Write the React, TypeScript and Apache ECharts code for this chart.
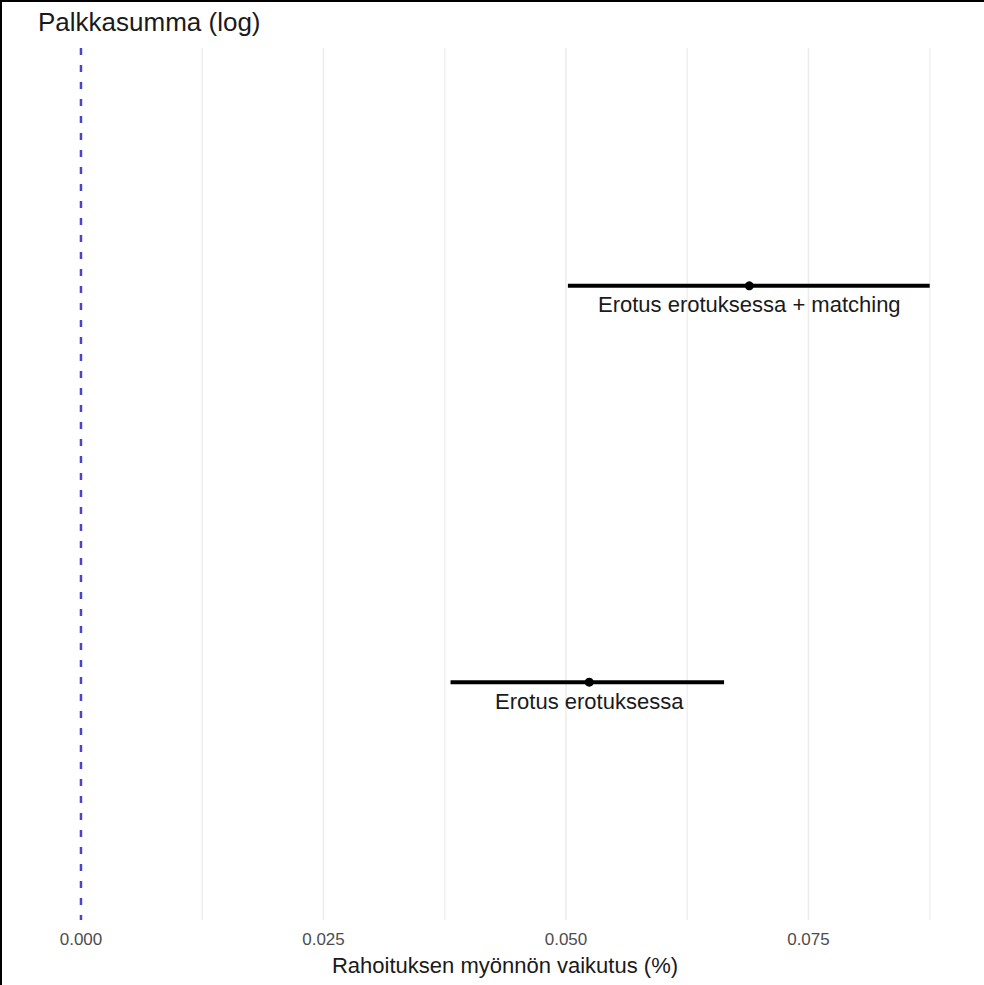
import React, { useEffect, useRef } from "react";
import * as echarts from "echarts";

const titleText = "Palkkasumma (log)";
const xAxisTitle = "Rahoituksen myönnön vaikutus (%)";
const catNames = ["Erotus erotuksessa", "Erotus erotuksessa + matching"];
const estimates = [0.0524, 0.0689];
const lower = [0.0381, 0.0502];
const upper = [0.0663, 0.0875];
const tickValues = [0, 0.025, 0.05, 0.075];
const majorGrid = [0.025, 0.05, 0.075];
const minorGrid = [0.0125, 0.0375, 0.0625, 0.0875];
const refLine = 0;

const FONT = "'Liberation Sans', Arial, Helvetica, sans-serif";

export default function App() {
  const ref = useRef<HTMLDivElement>(null);
  useEffect(() => {
    if (!ref.current) return;
    const chart = echarts.init(ref.current, null, { renderer: "svg" });
    const data = catNames.map((n, i) => [lower[i], estimates[i], upper[i], i + 1]);
    const gridData = [
      ...minorGrid.map((v) => [v, 0]),
      ...majorGrid.map((v) => [v, 1]),
      [refLine, 2],
    ];
    chart.setOption({
      animation: false,
      backgroundColor: "#ffffff",
      textStyle: { fontFamily: FONT },
      title: {
        text: titleText,
        left: 38,
        top: 9,
        padding: 0,
        textStyle: { fontSize: 26, fontWeight: "normal", color: "#1a1a1a", fontFamily: FONT },
      },
      grid: { left: 38, right: 12, top: 48, bottom: 65, containLabel: false, outerBoundsMode: "none" },
      xAxis: {
        type: "value",
        min: -0.00443,
        max: 0.09186,
        splitLine: { show: false },
        axisLine: { show: false },
        axisTick: { show: false },
        axisLabel: {
          customValues: tickValues,
          formatter: (v: number) => v.toFixed(3),
          color: "#4d4d4d",
          fontSize: 17,
          margin: 11,
          fontFamily: FONT,
        },
        name: xAxisTitle,
        nameLocation: "middle",
        nameGap: 34,
        nameTextStyle: { fontSize: 22, color: "#1a1a1a", fontFamily: FONT },
      },
      yAxis: {
        type: "value",
        min: 0.4,
        max: 2.6,
        show: false,
        splitLine: { show: false },
      },
      graphic: [
        { type: "rect", shape: { x: 0, y: 0, width: 984, height: 2 }, style: { fill: "#000" }, z: 100 },
        { type: "rect", shape: { x: 0, y: 0, width: 2, height: 985 }, style: { fill: "#000" }, z: 100 },
      ],
      series: [
        {
          type: "custom",
          data: gridData,
          encode: { x: 0 },
          silent: true,
          z: 1,
          renderItem: (params: any, api: any) => {
            const kind = api.value(1);
            const cs = params.coordSys;
            const x = api.coord([api.value(0), 1])[0];
            let style: any;
            if (kind === 0) style = { stroke: "#f0f0f0", lineWidth: 1.5 };
            else if (kind === 1) style = { stroke: "#ebebeb", lineWidth: 1.5 };
            else style = { stroke: "#4a44c8", lineWidth: 2.5, lineDash: [7, 10] };
            return {
              type: "line",
              shape: { x1: x, y1: cs.y, x2: x, y2: cs.y + cs.height },
              style,
              z2: kind,
            };
          },
        },
        {
          type: "custom",
          data,
          encode: { x: [0, 1, 2], y: 3 },
          z: 5,
          renderItem: (params: any, api: any) => {
            const y = api.value(3);
            const pL = api.coord([api.value(0), y]);
            const pE = api.coord([api.value(1), y]);
            const pH = api.coord([api.value(2), y]);
            return {
              type: "group",
              children: [
                {
                  type: "line",
                  shape: { x1: pL[0], y1: pL[1], x2: pH[0], y2: pH[1] },
                  style: { stroke: "#000", lineWidth: 4 },
                },
                {
                  type: "circle",
                  shape: { cx: pE[0], cy: pE[1], r: 4.5 },
                  style: { fill: "#000" },
                },
                {
                  type: "text",
                  style: {
                    text: catNames[params.dataIndex],
                    x: pE[0],
                    y: pE[1] + 8,
                    align: "center",
                    verticalAlign: "top",
                    fontSize: 22,
                    fontFamily: FONT,
                    fill: "#1a1a1a",
                  },
                },
              ],
            };
          },
        },
      ],
    });
    return () => chart.dispose();
  }, []);
  return (
    <div
      ref={ref}
      style={{ position: "fixed", left: 0, top: 0, width: 984, height: 985 }}
    />
  );
}
